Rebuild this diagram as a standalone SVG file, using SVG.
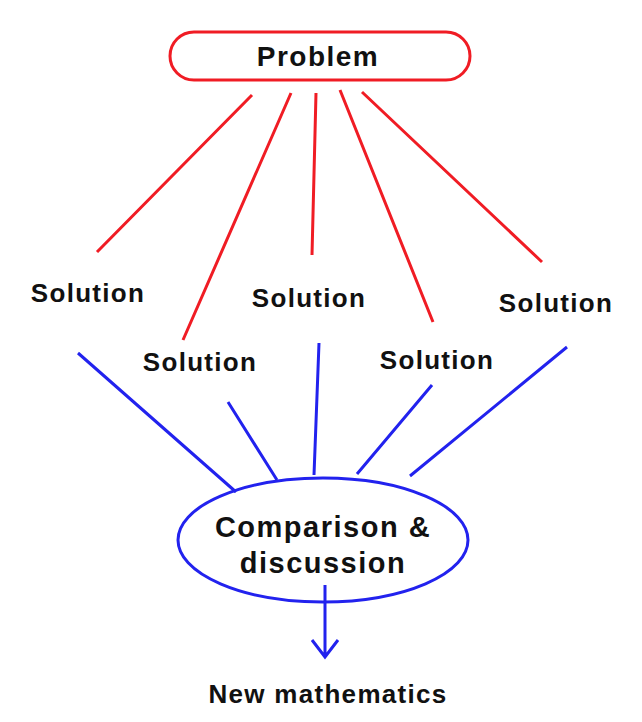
<svg xmlns="http://www.w3.org/2000/svg" width="642" height="722" viewBox="0 0 642 722">
<style>
.r{stroke:#f01c24;stroke-width:3;fill:none}
.b{stroke:#2222ee;stroke-width:3;fill:none}
text{font-family:"Liberation Sans",Arial,sans-serif;font-weight:bold;fill:#111;text-anchor:middle}
.s{font-size:26px;letter-spacing:1.3px}
</style>
<rect width="642" height="722" fill="#fff"/>
<g id="connectors">
<path class="r" d="M252 95L97 252M291 93L183 340M316 93L312 255M340 90L433 322M362 92L542 262"/>
<path class="b" d="M78 353L236 492M228 402L277 480M319 343L314 475M432 385L357 474M567 347L410 476M325 585V657M312 640L325 657L338 640"/>
</g>
<g id="problem"><rect class="r" x="170" y="32" width="300" height="48" rx="24"/><text x="318" y="66" font-size="28" letter-spacing="1.5">Problem</text></g>
<g id="s1"><text class="s" x="88" y="302">Solution</text></g>
<g id="s2"><text class="s" x="200" y="371">Solution</text></g>
<g id="s3"><text class="s" x="309" y="307">Solution</text></g>
<g id="s4"><text class="s" x="437" y="369">Solution</text></g>
<g id="s5"><text class="s" x="556" y="312">Solution</text></g>
<g id="compare"><ellipse class="b" cx="323" cy="540" rx="145" ry="62"/><text x="323" y="537" font-size="29" letter-spacing="1.5">Comparison &amp;</text><text x="323" y="573" font-size="29" letter-spacing="1.5">discussion</text></g>
<g id="newmath"><text class="s" x="328" y="703" letter-spacing="1.8">New mathematics</text></g>
</svg>
